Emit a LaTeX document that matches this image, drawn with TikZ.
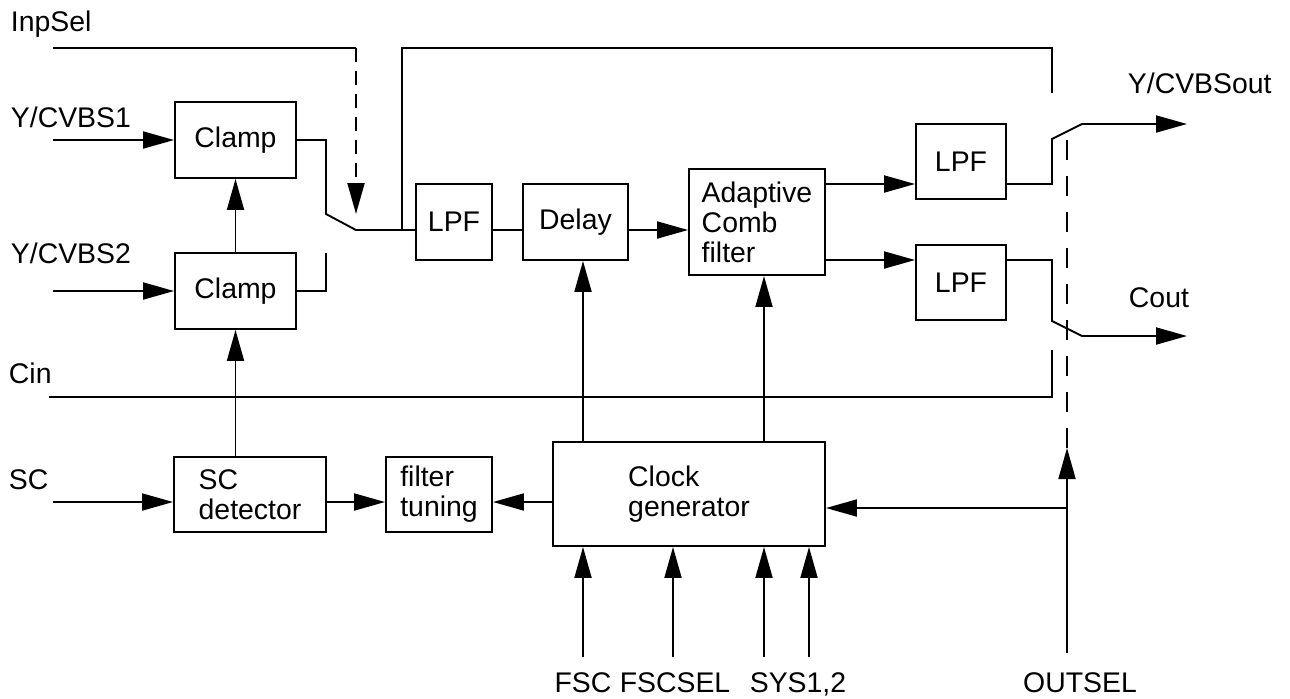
\documentclass[tikz,border=0pt]{standalone}
\usepackage{fontspec}
\setmainfont{Liberation Sans}
\usetikzlibrary{arrows.meta}

\begin{document}
\begin{tikzpicture}[x=0.5pt,y=-0.5pt,line width=0.95pt,
  >={Triangle[length=15.5pt,width=8.5pt]},
  blk/.style={draw,inner sep=2pt,align=left,font=\fontsize{14.2}{15}\selectfont},
  lbl/.style={inner sep=0pt,font=\fontsize{14.2}{15}\selectfont},
  inpdash/.style={dash pattern=on 7pt off 4.5pt},
  outdash/.style={dash pattern=on 10pt off 8pt}]
  \useasboundingbox (0,0) rectangle (1290,698);
  \node[blk,minimum width=60.5pt,minimum height=38pt] (clampA) at (235.5,140) {Clamp};
  \node[blk,minimum width=60.5pt,minimum height=38pt] (clampB) at (235.5,291) {Clamp};
  \node[blk,minimum width=76pt,minimum height=37.5pt] (scdet) at (250,494.5) {SC\\detector};
  \node[blk,minimum width=53pt,minimum height=37.5pt] (tune) at (439,494.5) {filter\\tuning};
  \node[blk,minimum width=136pt,minimum height=52pt] (clk) at (689,494) {Clock\\generator};
  \node[blk,minimum width=38pt,minimum height=38pt] (lpfA) at (454,222) {LPF};
  \node[blk,minimum width=52.5pt,minimum height=38pt] (delay) at (575.5,222) {Delay};
  \node[blk,minimum width=68pt,minimum height=53pt] (comb) at (757,222) {Adaptive\\Comb\\filter};
  \node[blk,minimum width=45pt,minimum height=37.5pt] (lpfB) at (961,161.5) {LPF};
  \node[blk,minimum width=45pt,minimum height=37.5pt] (lpfC) at (961,282.5) {LPF};

  \node[lbl,anchor=base west] (tInpSel) at (10,31) {InpSel};
  \node[lbl,anchor=base west] (tYin1) at (10,127) {Y/CVBS1};
  \node[lbl,anchor=base west] (tYin2) at (10,263) {Y/CVBS2};
  \node[lbl,anchor=base west] (tCin) at (8,383) {Cin};
  \node[lbl,anchor=base west] (tSC) at (8,489) {SC};
  \node[lbl,anchor=base west] (tYout) at (1127,93) {Y/CVBSout};
  \node[lbl,anchor=base west] (tCout) at (1128,307) {Cout};
  \node[lbl,anchor=base] (tFSC) at (583,692) {FSC};
  \node[lbl,anchor=base] (tFSCSEL) at (675,692) {FSCSEL};
  \node[lbl,anchor=base] (tSYS) at (798,692) {SYS1,2};
  \node[lbl,anchor=base] (tOUTSEL) at (1080,692) {OUTSEL};

  \coordinate (rowS) at (0,230);
  \coordinate (rowY) at (0,184);
  \coordinate (rowC) at (0,260);
  \coordinate (rowT) at (0,502);
  \coordinate (rowO) at (0,508);
  \coordinate (yin1) at (53,140);
  \coordinate (yin2) at (53,291);
  \coordinate (cin) at (49,397);
  \coordinate (scin) at (53,502);
  \coordinate (inpsel) at (53,48);
  \coordinate (inpcorner) at (356,48);
  \coordinate (inptip) at (356,214);
  \coordinate (swA) at (326,214);
  \coordinate (swB) at (326,253);
  \coordinate (swP) at (356,230);
  \coordinate (tap) at (402,230);
  \coordinate (byp) at (1052,93);
  \coordinate (oyA) at (1052,139);
  \coordinate (oyP) at (1082,124);
  \coordinate (yout) at (1187,124);
  \coordinate (ocA) at (1052,321);
  \coordinate (ocB) at (1052,350);
  \coordinate (ocP) at (1082,336);
  \coordinate (cout) at (1187,336);
  \coordinate (fsc) at (583,657);
  \coordinate (fscsel) at (673,657);
  \coordinate (sysA) at (764,657);
  \coordinate (sysB) at (809,657);
  \coordinate (outsel) at (1067,653);
  \coordinate (outtip) at (1067,448);
  \coordinate (outtop) at (1067,139);
  \coordinate (outjoin) at (1067,508);

  \draw[->] (yin1) -- (clampA.west);
  \draw[->] (yin2) -- (clampB.west);
  \draw[->] (clampB.north) -- (clampA.south);
  \draw[->] (scdet.north -| clampB) -- (clampB.south);
  \draw[->] (scin) -- (scdet.west |- scin);
  \draw[->] (scdet.east |- rowT) -- (tune.west |- rowT);
  \draw[->] (clk.west |- rowT) -- (tune.east |- rowT);

  \draw (clampA.east) -| (swA) -- (swP) -- (lpfA.west |- rowS);
  \draw (clampB.east) -| (swB);
  \draw (inpsel) -- (inpcorner);
  \draw[->,inpdash] (inpcorner) -- (inptip);
  \draw (tap) |- (byp |- inpsel) -- (byp);
  \draw (lpfA.east |- rowS) -- (delay.west |- rowS);
  \draw[->] (delay.east |- rowS) -- (comb.west |- rowS);
  \draw[->] (comb.east |- rowY) -- (lpfB.west |- rowY);
  \draw[->] (comb.east |- rowC) -- (lpfC.west |- rowC);

  \draw[->] (lpfB.east |- rowY) -| (oyA) -- (oyP) -- (yout);
  \draw[->] (lpfC.east |- rowC) -| (ocA) -- (ocP) -- (cout);
  \draw (cin) -| (ocB);

  \draw[->] (clk.north -| fsc) -- (delay.south -| fsc);
  \draw[->] (clk.north -| sysA) -- (comb.south -| sysA);
  \draw[->] (fsc) -- (clk.south -| fsc);
  \draw[->] (fscsel) -- (clk.south -| fscsel);
  \draw[->] (sysA) -- (clk.south -| sysA);
  \draw[->] (sysB) -- (clk.south -| sysB);

  \draw[->] (outsel) -- (outtip);
  \draw[outdash] (outtip) -- (outtop);
  \draw[->] (outjoin) -- (clk.east |- rowO);
\end{tikzpicture}
\end{document}
